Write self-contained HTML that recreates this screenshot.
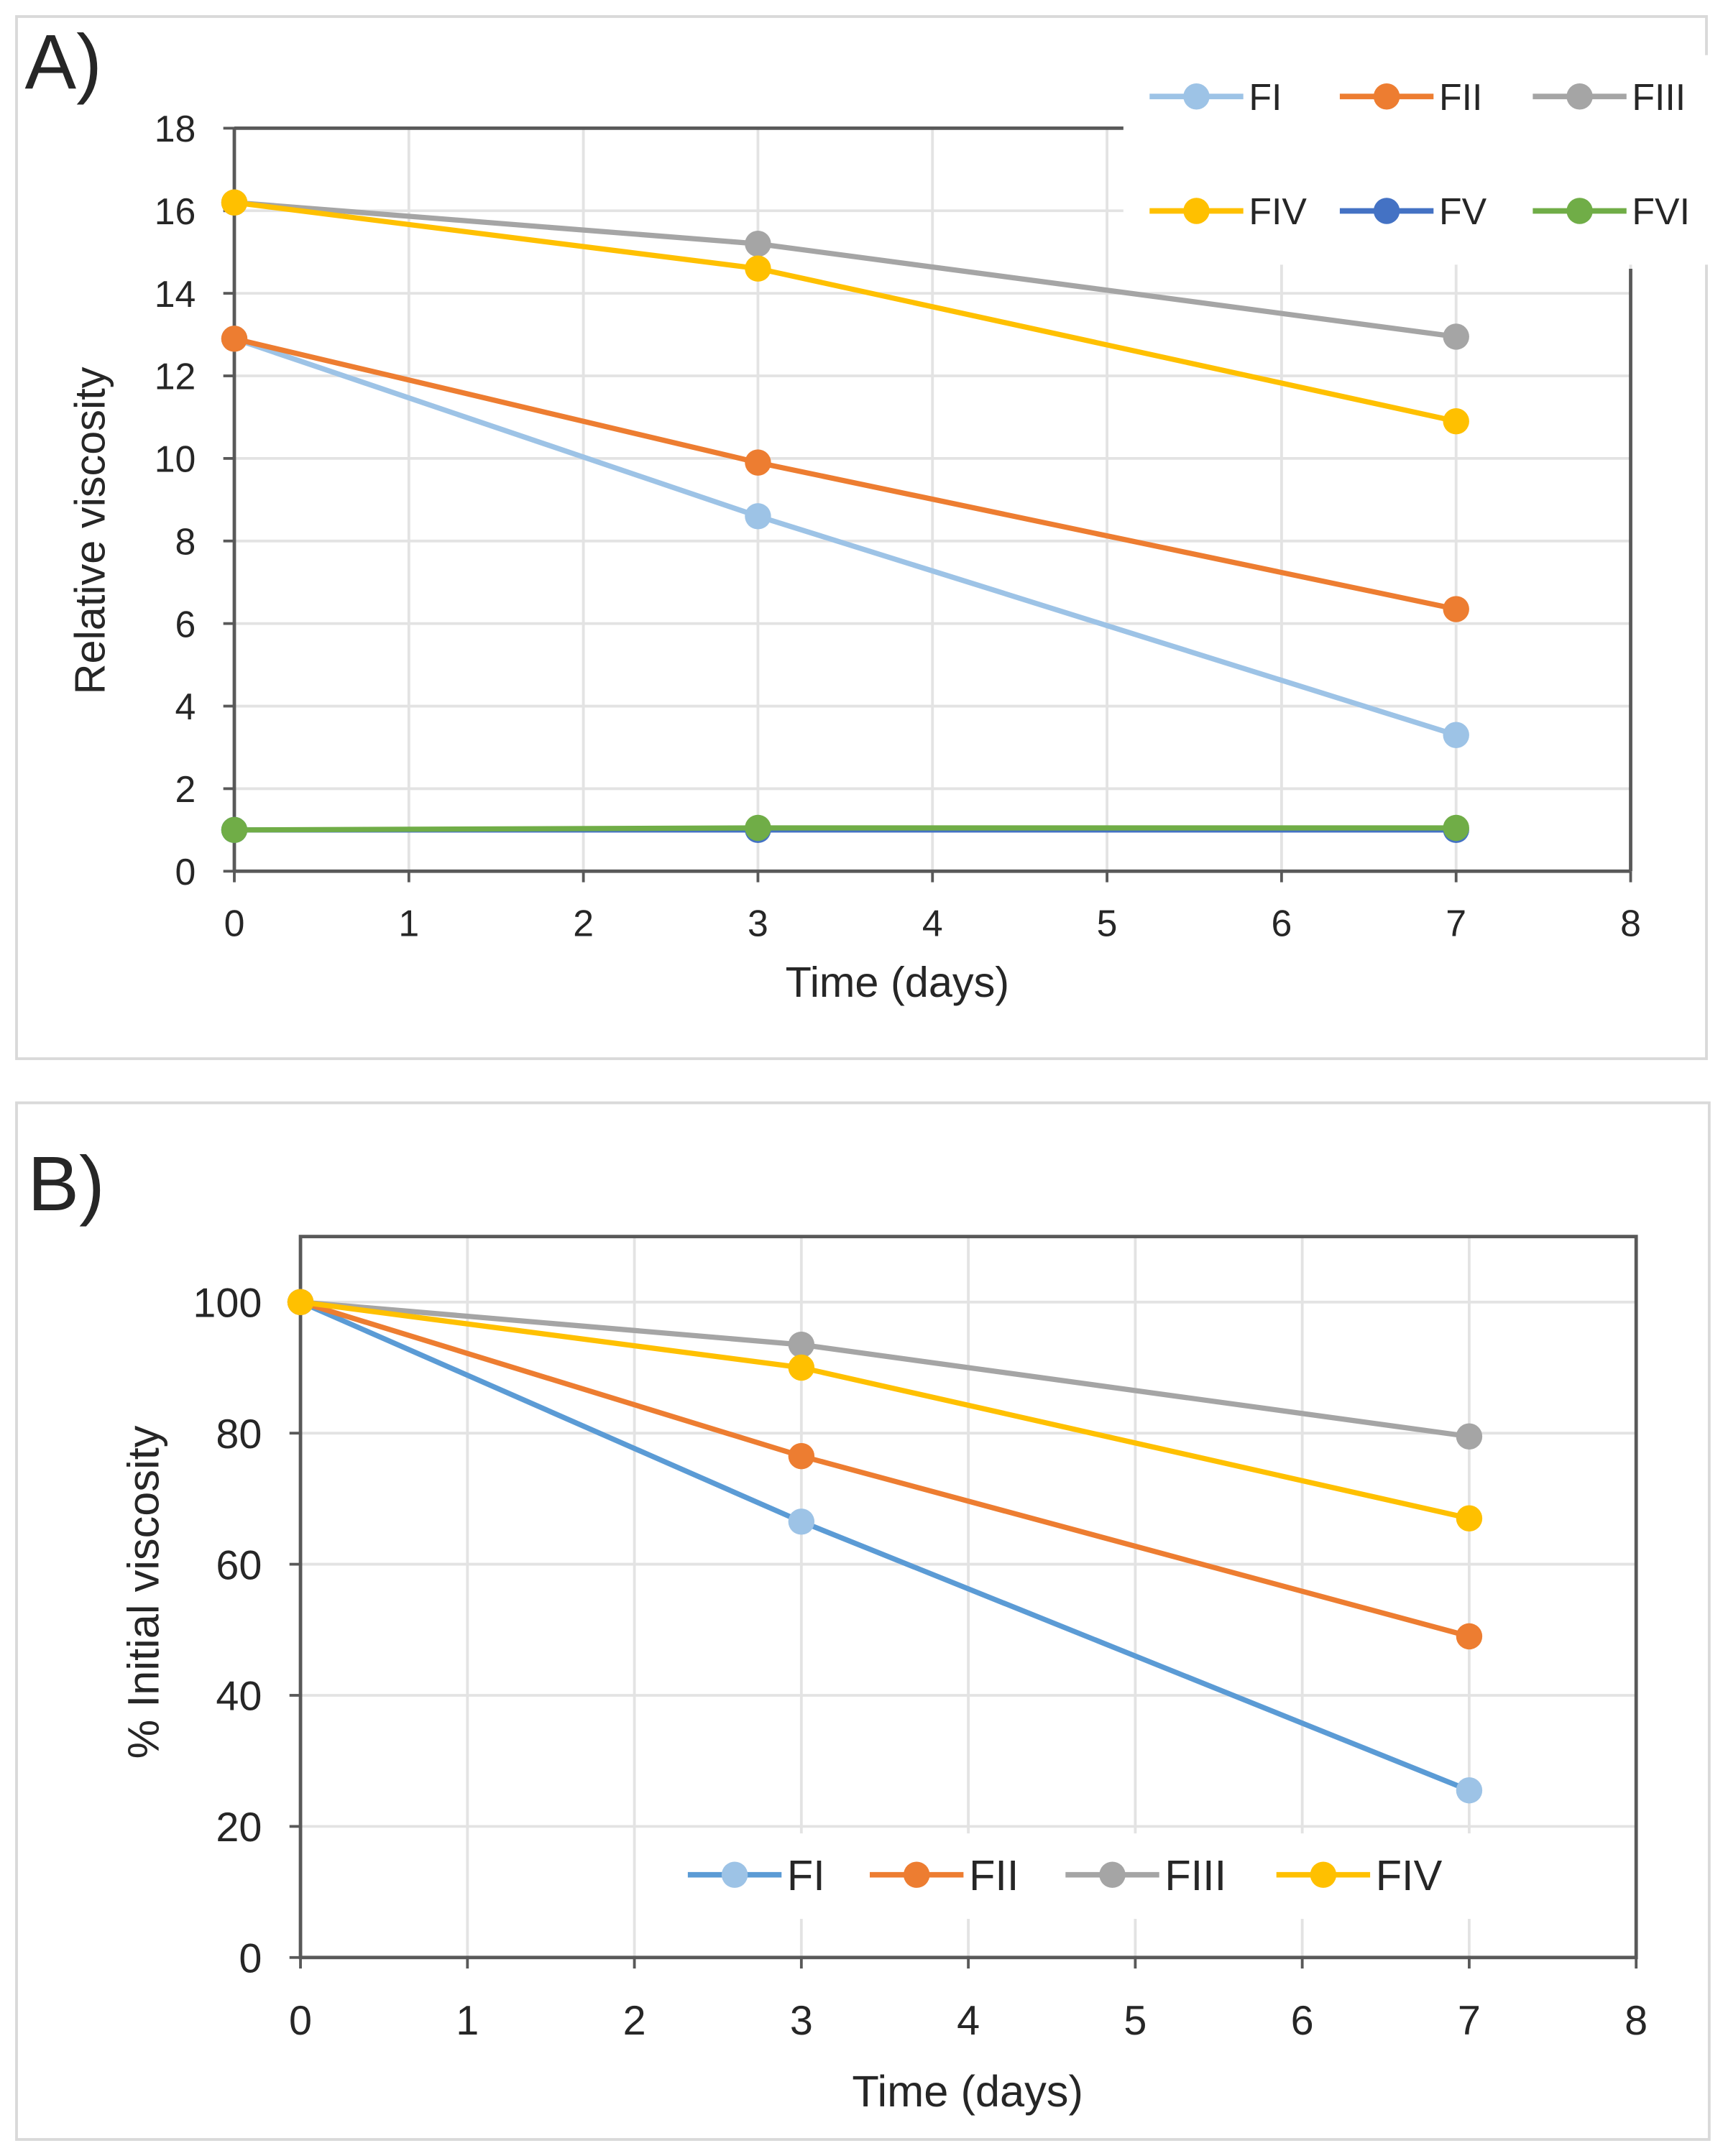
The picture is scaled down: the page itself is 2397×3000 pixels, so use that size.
<!DOCTYPE html>
<html><head><meta charset="utf-8"><style>
html,body{margin:0;padding:0;background:#fff}
svg{display:block}
text{font-family:"Liberation Sans",sans-serif;fill:#262626}
</style></head><body>
<svg id="root" width="2397" height="3000" viewBox="0 0 1250 1564" preserveAspectRatio="none" xmlns="http://www.w3.org/2000/svg">
<rect x="12" y="12" width="1226" height="756" fill="#fff" stroke="#d9d9d9" stroke-width="2"/>
<rect x="12" y="800" width="1228" height="752" fill="#fff" stroke="#d9d9d9" stroke-width="2"/>
<text x="18" y="64" font-size="56">A)</text>
<text x="20" y="878" font-size="56">B)</text>
<g id="ga"></g><g id="gb"></g>
</svg>
<script>
const daysA = [0, 3, 7];
const fiA = [12.9, 8.6, 3.3];
const fiiA = [12.9, 9.9, 6.35];
const fiiiA = [16.2, 15.2, 12.95];
const fivA = [16.2, 14.6, 10.9];
const fvA = [1.0, 1.0, 1.0];
const fviA = [1.0, 1.05, 1.05];
const yTicksA = [0, 2, 4, 6, 8, 10, 12, 14, 16, 18];
const xTicks = [0, 1, 2, 3, 4, 5, 6, 7, 8];
const daysB = [0, 3, 7];
const fiB = [100, 66.5, 25.5];
const fiiB = [100, 76.5, 49];
const fiiiB = [100, 93.5, 79.5];
const fivB = [100, 90, 67];
const yTicksB = [0, 20, 40, 60, 80, 100];

const NS = "http://www.w3.org/2000/svg";
function mk(parent, tag, attrs) {
  const e = document.createElementNS(NS, tag);
  for (const k in attrs) e.setAttribute(k, attrs[k]);
  parent.appendChild(e);
  return e;
}
function chart(g, opt) {
  const sx = v => opt.x0 + (v - 0) / 8 * (opt.x1 - opt.x0);
  const sy = v => opt.y0 - v / opt.ymax * (opt.y0 - opt.y1);
  xTicks.forEach(t => {
    if (t === 0) return;
    const l = mk(g, 'line', {x1: sx(t), x2: sx(t), y1: opt.y1, y2: opt.y0, stroke: '#e3e3e3', 'stroke-width': 2});
    
    
  });
  opt.yTicks.forEach(t => {
    if (t === 0) return;
    const l = mk(g, 'line', {x1: opt.x0, x2: opt.x1, y1: sy(t), y2: sy(t), stroke: '#e3e3e3', 'stroke-width': 2});
    
    
  });
  opt.frame(sx, sy);
  opt.yTicks.forEach(t => {
    const tk = mk(g, 'line', {x1: opt.x0 - 8, x2: opt.x0, y1: sy(t), y2: sy(t), stroke: '#595959', 'stroke-width': 2});
    
    
    const tx = mk(g, 'text', {x: opt.x0 - 28, y: sy(t) + opt.tfs * 0.36, 'font-size': opt.tfs, 'text-anchor': 'end'});
    tx.textContent = t;
    
    
  });
  xTicks.forEach(t => {
    const tk = mk(g, 'line', {x1: sx(t), x2: sx(t), y1: opt.y0, y2: opt.y0 + 8, stroke: '#595959', 'stroke-width': 2});
    
    
    const tx = mk(g, 'text', {x: sx(t), y: opt.y0 + opt.xlo, 'font-size': opt.tfs, 'text-anchor': 'middle'});
    tx.textContent = t;
    
    
  });
  opt.series.forEach(s => {
    const pts = s.vals.map((v, i) => sx(s.days[i]) + ',' + sy(v)).join(' ');
    const pl = mk(g, 'polyline', {points: pts, fill: 'none', stroke: s.line, 'stroke-width': 3.8});
    
    
    s.vals.forEach((v, i) => {
      const c = mk(g, 'circle', {cx: sx(s.days[i]), cy: sy(v), r: 9.5, fill: s.mark});
      
      
    });
  });
  const xt = mk(g, 'text', {x: opt.xtx, y: opt.xty, 'font-size': opt.afs, 'text-anchor': 'middle'});
  xt.textContent = 'Time (days)';
  
  
  const yt = mk(g, 'text', {x: 0, y: 0, 'font-size': opt.afs, 'text-anchor': 'middle', transform: 'translate(' + opt.ytx + ',' + opt.yty + ') rotate(-90)'});
  yt.textContent = opt.ytitle;
  
  
  opt.legend.forEach(L => {
    const ln = mk(g, 'line', {x1: L.x - 34, x2: L.x + 34, y1: L.y, y2: L.y, stroke: L.line, 'stroke-width': 4});
    
    
    const c = mk(g, 'circle', {cx: L.x, cy: L.y, r: 9.5, fill: L.mark});
    
    
    const t = mk(g, 'text', {x: L.x + 38, y: L.y + L.fs * 0.36, 'font-size': L.fs});
    t.textContent = L.label;
    
    
  });
}
const C = {b:'#9DC3E6', o:'#ED7D31', g:'#A5A5A5', y:'#FFC000', d:'#4472C4', gr:'#70AD47', bl:'#5B9BD5'};
const ga = document.getElementById('ga');
chart(ga, {
  x0: 170, x1: 1183, y0: 632, y1: 93, ymax: 18, yTicks: yTicksA, tfs: 27, xlo: 47, afs: 31,
  frame: (sx, sy) => {
    let l = mk(ga, 'rect', {x: 815, y: 40, width: 430, height: 152, fill: '#fff'});
    
    
    l = mk(ga, 'line', {x1: 170, x2: 815, y1: 93, y2: 93, stroke: '#595959', 'stroke-width': 2.5});
    
    
    l = mk(ga, 'line', {x1: 1183, x2: 1183, y1: 195, y2: 632, stroke: '#595959', 'stroke-width': 2.5});
    
    
    l = mk(ga, 'line', {x1: 170, x2: 170, y1: 93, y2: 632, stroke: '#595959', 'stroke-width': 2.5});
    
    
    l = mk(ga, 'line', {x1: 170, x2: 1183, y1: 632, y2: 632, stroke: '#595959', 'stroke-width': 2.5});
    
    
  },
  series: [
    {name:'fv', days:daysA, vals:fvA, line:C.d, mark:C.d},
    {name:'fvi', days:daysA, vals:fviA, line:C.gr, mark:C.gr},
    {name:'fi', days:daysA, vals:fiA, line:C.b, mark:C.b},
    {name:'fii', days:daysA, vals:fiiA, line:C.o, mark:C.o},
    {name:'fiii', days:daysA, vals:fiiiA, line:C.g, mark:C.g},
    {name:'fiv', days:daysA, vals:fivA, line:C.y, mark:C.y}
  ],
  xtx: 651, xty: 723, ytx: 76, yty: 385, ytitle: 'Relative viscosity',
  legend: [
    {x:868,y:70,line:C.b,mark:C.b,label:'FI',fs:27},
    {x:1006,y:70,line:C.o,mark:C.o,label:'FII',fs:27},
    {x:1146,y:70,line:C.g,mark:C.g,label:'FIII',fs:27},
    {x:868,y:153,line:C.y,mark:C.y,label:'FIV',fs:27},
    {x:1006,y:153,line:C.d,mark:C.d,label:'FV',fs:27},
    {x:1146,y:153,line:C.gr,mark:C.gr,label:'FVI',fs:27}
  ]
});
const gb = document.getElementById('gb');
chart(gb, {
  x0: 218, x1: 1187, y0: 1420, y1: 897, ymax: 110, yTicks: yTicksB, tfs: 30, xlo: 56, afs: 32,
  frame: (sx, sy) => {
    const l = mk(gb, 'rect', {x: 218, y: 897, width: 969, height: 523, fill: 'none', stroke: '#595959', 'stroke-width': 2.5});
    
    
    const bg = mk(gb, 'rect', {x: 490, y: 1330, width: 580, height: 62, fill: '#fff'});
    
    
  },
  series: [
    {name:'fi', days:daysB, vals:fiB, line:C.bl, mark:C.b},
    {name:'fii', days:daysB, vals:fiiB, line:C.o, mark:C.o},
    {name:'fiii', days:daysB, vals:fiiiB, line:C.g, mark:C.g},
    {name:'fiv', days:daysB, vals:fivB, line:C.y, mark:C.y}
  ],
  xtx: 702, xty: 1528, ytx: 115, yty: 1155, ytitle: '% Initial viscosity',
  legend: [
    {x:533,y:1360,line:C.bl,mark:C.b,label:'FI',fs:31},
    {x:665,y:1360,line:C.o,mark:C.o,label:'FII',fs:31},
    {x:807,y:1360,line:C.g,mark:C.g,label:'FIII',fs:31},
    {x:960,y:1360,line:C.y,mark:C.y,label:'FIV',fs:31}
  ]
});
</script>
</body></html>
